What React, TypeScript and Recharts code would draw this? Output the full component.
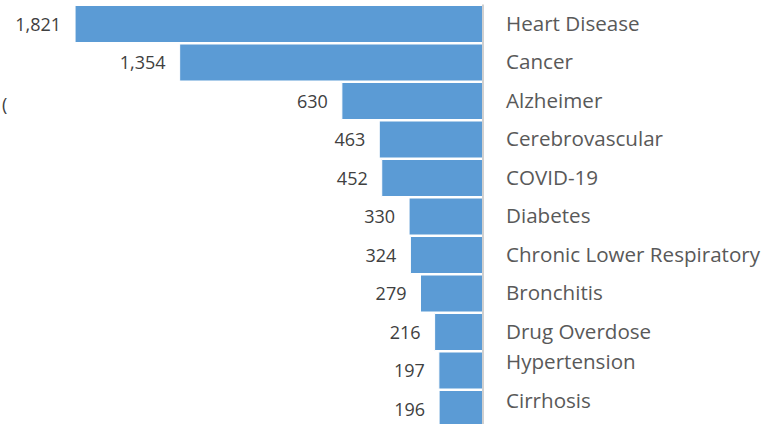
import { BarChart, Bar, XAxis, YAxis, LabelList } from "recharts";

const causes = [
  "Heart Disease",
  "Cancer",
  "Alzheimer",
  "Cerebrovascular",
  "COVID-19",
  "Diabetes",
  "Chronic Lower Respiratory",
  "Bronchitis",
  "Drug Overdose",
  "Hypertension",
  "Cirrhosis",
];
const deaths = [1821, 1354, 630, 463, 452, 330, 324, 279, 216, 197, 196];

const data = causes.map((cause, i) => ({ cause, deaths: deaths[i] }));

const FONT = "'Open Sans', sans-serif";

const CauseTick = (props: any) => {
  const { x, y, payload, index } = props;
  // the last two labels sit a bit higher in the original
  const shift = index >= 9 ? -8 : 0;
  return (
    <text x={x + 15} y={y + shift} dy={7} fontSize={20.6} fontFamily={FONT} fill="#595959" textAnchor="start">
      {payload.value}
    </text>
  );
};

const ValueLabel = (props: any) => {
  const { x, y, width, height, value } = props;
  const left = Math.min(x, x + width);
  return (
    <text x={left - 14} y={y + height / 2} dy={6.5} fontSize={18} fontFamily={FONT} fill="#404040" textAnchor="end">
      {Number(value).toLocaleString("en-US")}
    </text>
  );
};

export default function App() {
  return (
    <div style={{ position: "fixed", left: 0, top: 0, width: 774, height: 424, overflow: "hidden", background: "#fff" }}>
      <BarChart
        width={774}
        height={428}
        data={data}
        layout="vertical"
        margin={{ top: 4.5, right: 0, bottom: 0, left: 0 }}
      >
        <XAxis type="number" domain={[0, 2156]} reversed hide allowDataOverflow />
        <YAxis
          type="category"
          dataKey="cause"
          orientation="right"
          width={291}
          axisLine={{ stroke: "#D0D0D0", strokeWidth: 2 }}
          tickLine={false}
          tick={<CauseTick />}
          interval={0}
        />
        <Bar dataKey="deaths" fill="#5B9BD5" stroke="#fff" strokeWidth={1} barSize={37} isAnimationActive={false}>
          <LabelList dataKey="deaths" content={<ValueLabel />} />
        </Bar>
      </BarChart>
      <div style={{ position: "absolute", left: 2, top: 92, fontFamily: FONT, fontSize: 18, color: "#404040" }}>(</div>
    </div>
  );
}
